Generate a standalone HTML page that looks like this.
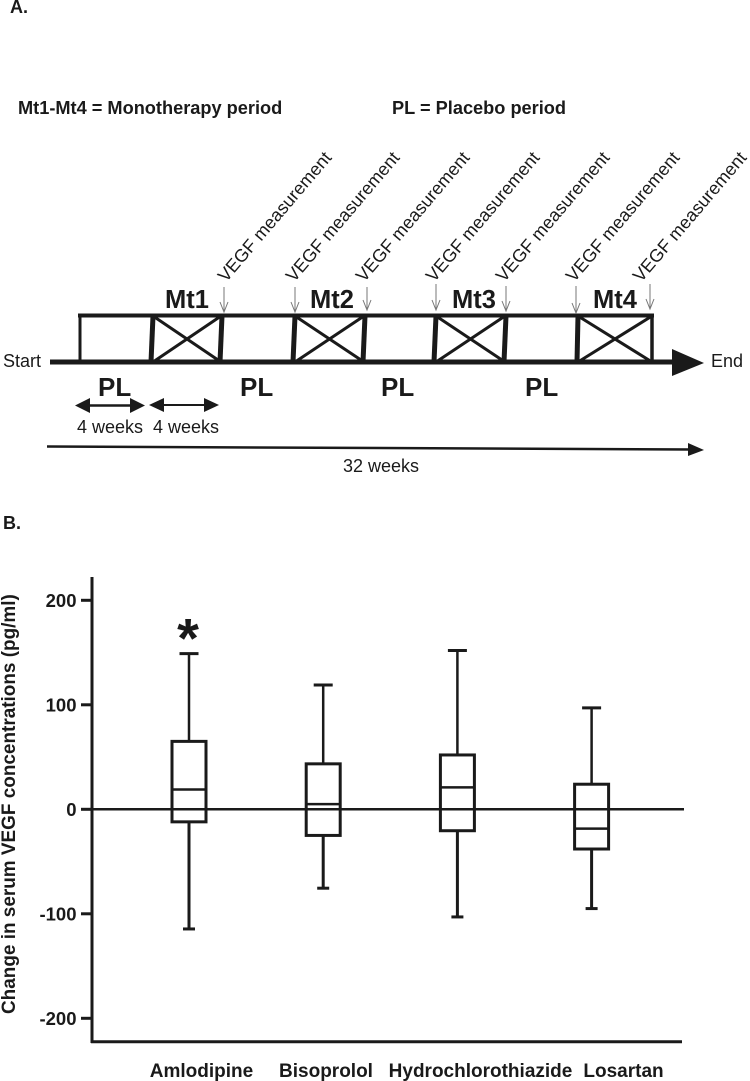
<!DOCTYPE html>
<html lang="en">
<head>
<meta charset="utf-8">
<title>VEGF study design and results</title>
<style>
html,body{margin:0;padding:0;background:#fff;}
svg{display:block;}
text{font-family:"Liberation Sans",Arial,sans-serif;fill:#1a1a1a;}
.b{font-weight:bold;}
</style>
</head>
<body>
<svg id="fig" xmlns="http://www.w3.org/2000/svg" width="750" height="1081" viewBox="0 0 750 1081">
  <rect width="750" height="1081" fill="#fff"/>
  <text class="b" x="10" y="13" font-size="18">A.</text>
  <text class="b" x="18" y="114" font-size="18.2">Mt1-Mt4 = Monotherapy period</text>
  <text class="b" x="392" y="114" font-size="18.2">PL = Placebo period</text>

  <g id="timeline" stroke="#1a1a1a" fill="none">
    <line x1="50" y1="362" x2="680" y2="362" stroke-width="5"/>
    <polygon points="672,349 704,363 672,376" fill="#1a1a1a" stroke="none"/>
    <line x1="78" y1="315.5" x2="654" y2="315.5" stroke-width="4"/>
    <line x1="80" y1="316" x2="80" y2="362" stroke-width="3"/>
    <line x1="153" y1="316" x2="151" y2="362" stroke-width="5"/>
    <line x1="222" y1="316" x2="220" y2="362" stroke-width="5"/>
    <line x1="295" y1="316" x2="293" y2="362" stroke-width="5"/>
    <line x1="365" y1="316" x2="363" y2="362" stroke-width="5"/>
    <line x1="436" y1="316" x2="434" y2="362" stroke-width="5"/>
    <line x1="506" y1="316" x2="504" y2="362" stroke-width="5"/>
    <line x1="578" y1="316" x2="577" y2="362" stroke-width="5"/>
    <line x1="652" y1="316" x2="652" y2="362" stroke-width="3.5"/>
    <g stroke-width="3">
      <path d="M153 316L221 362M153 362L221 316"/>
      <path d="M295 316L364 362M295 362L364 316"/>
      <path d="M436 316L505 362M436 362L505 316"/>
      <path d="M578 316L652 362M578 362L652 316"/>
    </g>
    <g stroke="#777" stroke-width="1">
      <path d="M224 287V312M220 302L224 312L228 302"/>
      <path d="M295 287V312M291 302L295 312L299 302"/>
      <path d="M367 287V310M363 300L367 310L371 300"/>
      <path d="M436 284V310M432 300L436 310L440 300"/>
      <path d="M506 286V311M502 301L506 311L510 301"/>
      <path d="M576 286V313M572 303L576 313L580 303"/>
      <path d="M650 284V309M646 299L650 309L654 299"/>
    </g>
    <line x1="82" y1="405.5" x2="138" y2="405.5" stroke-width="2.5"/>
    <polygon points="75,405.5 90,398 90,413" fill="#1a1a1a" stroke="none"/>
    <polygon points="145,405.5 130,398 130,413" fill="#1a1a1a" stroke="none"/>
    <line x1="156" y1="405" x2="212" y2="405" stroke-width="2"/>
    <polygon points="149,405 164,398 164,412" fill="#1a1a1a" stroke="none"/>
    <polygon points="219,405 204,398 204,412" fill="#1a1a1a" stroke="none"/>
    <line x1="47" y1="446.5" x2="692" y2="449.5" stroke-width="2.5"/>
    <polygon points="688,443 704,450 688,456" fill="#1a1a1a" stroke="none"/>
  </g>

  <text x="3" y="367" font-size="18">Start</text>
  <text x="711" y="367" font-size="18">End</text>
  <text class="b" x="165" y="308" font-size="25.5">Mt1</text>
  <text class="b" x="310" y="308" font-size="25.5">Mt2</text>
  <text class="b" x="452" y="308" font-size="25.5">Mt3</text>
  <text class="b" x="593" y="308" font-size="25.5">Mt4</text>
  <text class="b" x="98" y="396" font-size="26">PL</text>
  <text class="b" x="240" y="396" font-size="26">PL</text>
  <text class="b" x="381" y="396" font-size="26">PL</text>
  <text class="b" x="525" y="396" font-size="26">PL</text>
  <text x="77" y="433" font-size="18">4 weeks</text>
  <text x="153" y="433" font-size="18">4 weeks</text>
  <text x="343" y="472" font-size="18">32 weeks</text>

  <text transform="translate(226 283) rotate(-49.5)" font-size="18">VEGF measurement</text>
  <text transform="translate(294 283) rotate(-49.5)" font-size="18">VEGF measurement</text>
  <text transform="translate(364 283) rotate(-49.5)" font-size="18">VEGF measurement</text>
  <text transform="translate(434 283) rotate(-49.5)" font-size="18">VEGF measurement</text>
  <text transform="translate(504 283) rotate(-49.5)" font-size="18">VEGF measurement</text>
  <text transform="translate(574 283) rotate(-49.5)" font-size="18">VEGF measurement</text>
  <text transform="translate(641 283) rotate(-49.5)" font-size="18">VEGF measurement</text>

  <text class="b" x="3" y="529" font-size="18">B.</text>
  <text class="b" transform="translate(15 1014) rotate(-90)" font-size="18.95">Change in serum VEGF concentrations (pg/ml)</text>
  <g id="chart"></g>
</svg>
<script>
var categories = ["Amlodipine", "Bisoprolol", "Hydrochlorothiazide", "Losartan"];
var whiskerHigh = [149, 119, 152, 97];
var quartile3 = [65, 43.5, 52, 24];
var medians = [19, 5, 21, -18.5];
var quartile1 = [-12, -25, -20.5, -38];
var whiskerLow = [-114.5, -75.5, -103, -95];
var yTicks = [200, 100, 0, -100, -200];
var significant = ["Amlodipine"];

var NS = "http://www.w3.org/2000/svg";
var chart = document.getElementById("chart");
var INK = "#1a1a1a";

function yScale(v) { return 809.3 - 1.045 * v; }
function xScale(i) { return 189 + 134.2 * i; }

function addLine(x1, y1, x2, y2, w) {
  var l = document.createElementNS(NS, "line");
  l.setAttribute("x1", x1);
  l.setAttribute("y1", y1);
  l.setAttribute("x2", x2);
  l.setAttribute("y2", y2);
  l.setAttribute("stroke", INK);
  l.setAttribute("stroke-width", w);
  chart.appendChild(l);
  return l;
}
function addText(str, x, y, size, anchor) {
  var t = document.createElementNS(NS, "text");
  t.setAttribute("x", x);
  t.setAttribute("y", y);
  t.setAttribute("font-size", size);
  t.setAttribute("font-weight", "bold");
  t.setAttribute("text-anchor", anchor);
  t.textContent = str;
  chart.appendChild(t);
  return t;
}

var el;
el = addLine(92, 577, 92, 1043, 3);


el = addLine(91, 1041.7, 682, 1041.7, 3);


el = addLine(92, yScale(0), 684, yScale(0), 2.5);



yTicks.forEach(function (v) {
  var tick = addLine(81, yScale(v), 92, yScale(v), 3);
  
  
  var lab = addText(String(v), 76.5, yScale(v) + 6.5, 18.5, "end");
  
  
});

var labelCenters = [201.5, 326, 480.5, 623.5];
categories.forEach(function (name, i) {
  var cx = xScale(i);
  var hi = addLine(cx, yScale(whiskerHigh[i]), cx, yScale(quartile3[i]), 2.5);
  
  
  var lo = addLine(cx, yScale(quartile1[i]), cx, yScale(whiskerLow[i]), 3);
  
  
  var capHi = addLine(cx - 9.5, yScale(whiskerHigh[i]), cx + 9.5, yScale(whiskerHigh[i]), 3);
  
  
  var capLo = addLine(cx - 6, yScale(whiskerLow[i]), cx + 6, yScale(whiskerLow[i]), 3);
  
  

  var box = document.createElementNS(NS, "rect");
  box.setAttribute("x", cx - 17);
  box.setAttribute("y", yScale(quartile3[i]));
  box.setAttribute("width", 34);
  box.setAttribute("height", yScale(quartile1[i]) - yScale(quartile3[i]));
  box.setAttribute("fill", "none");
  box.setAttribute("stroke", INK);
  box.setAttribute("stroke-width", 3);
  
  
  chart.appendChild(box);

  var med = addLine(cx - 17, yScale(medians[i]), cx + 17, yScale(medians[i]), 2.5);
  
  

  var cat = addText(name, labelCenters[i], 1077, 19, "middle");
  
  

  if (significant.indexOf(name) >= 0) {
    var star = addText("*", cx - 1, yScale(whiskerHigh[i]) + 4, 56, "middle");
    
    
  }
});
</script>
</body>
</html>
